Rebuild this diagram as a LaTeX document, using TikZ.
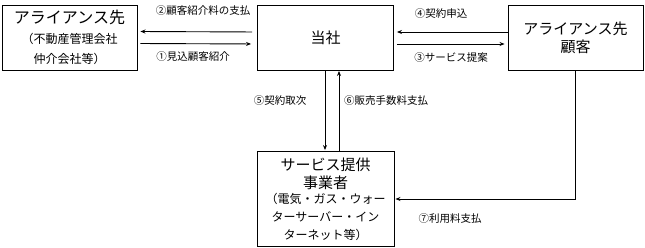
\documentclass[tikz,border=0pt]{standalone}
\usepackage{fontspec}
\setmainfont{Noto Sans CJK JP}
\usepackage{tikz}
\usetikzlibrary{arrows.meta,positioning,calc}
\tikzset{
    box/.style={draw, line width=0.9pt, align=center, inner sep=1pt},
    lbl/.style={font=\fontsize{10.5}{12}\selectfont, inner sep=0pt},
    flow/.style={line width=0.9pt, -{Stealth[length=5pt,width=4pt]}}
}

\begin{document}
\begin{tikzpicture}[x=1pt,y=-1pt]
        \useasboundingbox (0,0) rectangle (645,248);
        % Boxes
        \node[box, minimum width=135pt, minimum height=65pt,
              font=\fontsize{16}{20}\selectfont] (ally) at (69.5,37.5)
            {アライアンス先\\{\fontsize{12}{19}\selectfont （不動産管理会社}\\{\fontsize{12}{19}\selectfont 仲介会社等）}};
        \node[box, minimum width=136pt, minimum height=65pt,
              font=\fontsize{15}{18}\selectfont] (corp) at (325.5,38) {当社};
        \node[box, minimum width=135pt, minimum height=65pt,
              font=\fontsize{15}{18}\selectfont] (cust) at (575.5,38) {アライアンス先\\顧客};
        \node[box, minimum width=137pt, minimum height=95pt,
              font=\fontsize{15}{18}\selectfont] (svc) at (325.5,199)
            {サービス提供\\事業者\\[-3pt]{\fontsize{12}{15}\selectfont （電気・ガス・ウォー}\\{\fontsize{12}{15}\selectfont ターサーバー・イン}\\{\fontsize{12}{15}\selectfont ターネット等）}};
        % Horizontal flows
        \draw[flow, shorten >=3pt, shorten <=5pt] ([yshift=6pt]corp.west) -- ([yshift=6pt]ally.east);
        \draw[flow, shorten >=6pt, shorten <=3pt] ([yshift=-6pt]ally.east) -- ([yshift=-6pt]corp.west);
        \draw[flow, shorten >=3pt] ([yshift=6pt]cust.west) -- ([yshift=6pt]corp.east);
        \draw[flow, shorten >=3pt, shorten <=3pt] ([yshift=-6pt]corp.east) -- ([yshift=-6pt]cust.west);
        % Vertical flows
        \draw[flow, shorten >=1pt] ([xshift=-0.5pt]corp.south) -- ([xshift=-0.5pt]svc.north);
        \draw[flow] ([xshift=13.5pt]svc.north) -- ([xshift=13.5pt]corp.south);
        \draw[flow, shorten >=1pt] (cust.south) |- (svc.east);
        % Labels
        \node[lbl] (l2) at (203,11) {②顧客紹介料の支払};
        \node[lbl] (l1) at (193,57) {①見込顧客紹介};
        \node[lbl] (l4) at (441,14) {④契約申込};
        \node[lbl] (l3) at (451,58) {③サービス提案};
        \node[lbl] (l5) at (280,101) {⑤契約取次};
        \node[lbl] (l6) at (386,101) {⑥販売手数料支払};
        \node[lbl] (l7) at (450,219) {⑦利用料支払};
    \end{tikzpicture}
\end{document}
